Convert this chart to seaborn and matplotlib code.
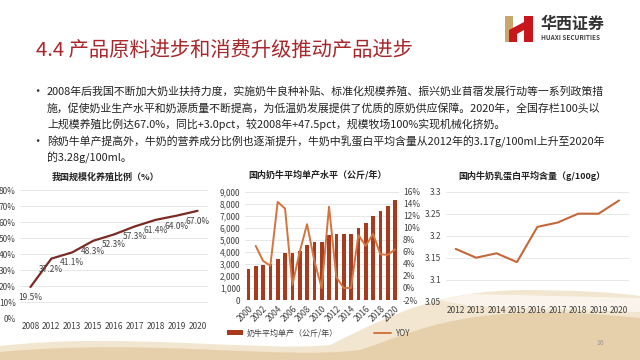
import matplotlib
matplotlib.use("Agg")
import matplotlib.pyplot as plt
import seaborn as sns
from matplotlib.patches import Patch, Polygon, PathPatch
from matplotlib.lines import Line2D
from matplotlib.path import Path
from matplotlib.ticker import FuncFormatter

# ---- data ----
scale_years = ["2008", "2012", "2013", "2015", "2016", "2017", "2018", "2019", "2020"]
scale_ratio = [19.5, 37.2, 41.1, 48.3, 52.3, 57.3, 61.4, 64.0, 67.0]

yield_years = ["2000", "2001", "2002", "2003", "2004", "2005", "2006", "2007", "2008", "2009", "2010",
               "2011", "2012", "2013", "2014", "2015", "2016", "2017", "2018", "2019", "2020"]
yield_kg = [2600, 2800, 2900, 3000, 3400, 3900, 3900, 4100, 4600, 4800, 4800,
            5400, 5500, 5500, 5500, 6000, 6400, 7000, 7400, 7800, 8300]
yoy_years = yield_years[1:]
yoy_pct = [7.0, 4.5, 3.7, 14.3, 13.2, 0.5, 6.0, 10.6, 4.5, 0.0,
           13.5, 1.8, 0.0, 0.0, 8.8, 7.0, 9.0, 5.6, 5.5, 6.4]

protein_years = ["2012", "2013", "2014", "2015", "2016", "2017", "2018", "2019", "2020"]
protein = [3.17, 3.15, 3.16, 3.14, 3.22, 3.23, 3.25, 3.25, 3.28]

title = "4.4 产品原料进步和消费升级推动产品进步"
bullet_1 = ["2008年后我国不断加大奶业扶持力度，实施奶牛良种补贴、标准化规模养殖、振兴奶业苜蓿发展行动等一系列政策措",
            "施，促使奶业生产水平和奶源质量不断提高，为低温奶发展提供了优质的原奶供应保障。2020年，全国存栏100头以",
            "上规模养殖比例达67.0%，同比+3.0pct，较2008年+47.5pct，规模牧场100%实现机械化挤奶。"]
bullet_2 = ["除奶牛单产提高外，牛奶的营养成分比例也逐渐提升，牛奶中乳蛋白平均含量从2012年的3.17g/100ml上升至2020年",
            "的3.28g/100ml。"]

sns.set_theme(style="white")
plt.rcParams["font.family"] = ["Noto Sans CJK SC", "DejaVu Sans"]

W, H = 640, 360
fig = plt.figure(figsize=(6.4, 3.6), dpi=100)


def px(x0, y_top, x1, y_bot):
    return [x0 / W, 1 - y_bot / H, (x1 - x0) / W, (y_bot - y_top) / H]


# ---- decorative background (sand waves) ----
bg = fig.add_axes([0, 0, 1, 1], zorder=-5)
bg.set_xlim(0, W)
bg.set_ylim(H, 0)
bg.axis("off")
verts = [(0, 360), (0, 346), (120, 332), (260, 352), (330, 345),
         (400, 310), (440, 292), (520, 290), (600, 290), (640, 296), (640, 360), (0, 360)]
codes = [Path.MOVETO, Path.LINETO, Path.CURVE4, Path.CURVE4, Path.CURVE4,
         Path.CURVE4, Path.CURVE4, Path.LINETO, Path.CURVE3, Path.CURVE3, Path.LINETO, Path.CLOSEPOLY]
bg.add_patch(PathPatch(Path(verts, codes), facecolor="#F1E2C8", edgecolor="none", alpha=0.85))
verts2 = [(0, 360), (0, 352), (150, 338), (280, 360), (360, 350),
          (420, 330), (470, 300), (640, 318), (640, 360), (0, 360)]
codes2 = [Path.MOVETO, Path.LINETO, Path.CURVE4, Path.CURVE4, Path.CURVE4,
          Path.CURVE4, Path.CURVE4, Path.CURVE3, Path.LINETO, Path.CLOSEPOLY]
bg.add_patch(PathPatch(Path(verts2, codes2), facecolor="#DDBE8E", edgecolor="none", alpha=0.55))
bg.add_patch(Polygon([(440, 300), (470, 294), (640, 298), (640, 312), (470, 306)],
                     facecolor="white", edgecolor="none", alpha=0.6))

# ---- header ----
fig.text(36 / W, 1 - 50 / H, title, fontsize=14.6, color="#A8272B", va="center", ha="left")
bg.add_patch(Polygon([(505, 16), (513, 16), (513, 42), (505, 42)], facecolor="#C9A66B", edgecolor="none"))
bg.add_patch(Polygon([(509, 30), (524, 22), (524, 16), (533, 16), (533, 42), (524, 42), (524, 30), (517, 34), (517, 42), (509, 42)],
                     facecolor="#C8161D", edgecolor="none"))
fig.text(541 / W, 1 - 24 / H, "华西证券", fontsize=11.5, color="#333333", va="center", ha="left", weight="bold")
fig.text(541 / W, 1 - 38 / H, "HUAXI SECURITIES", fontsize=4.6, color="#444444", va="center", ha="left", weight="bold")

# ---- bullet text ----
y = 92
for lines in (bullet_1, bullet_2):
    fig.text(31 / W, 1 - y / H, "•", fontsize=9, color="#333333", va="center")
    for ln in lines:
        fig.text(47 / W, 1 - y / H, ln, fontsize=7.85, color="#222222", va="center")
        y += 16
    y += 2

tick_col = "#404040"
grid_col = "#E3E3E3"

# ---- chart 1: scale farming ratio ----
ax1 = fig.add_axes(px(20, 190, 208, 318.3))
sns.lineplot(x=scale_years, y=scale_ratio, ax=ax1, color="#7B2B24", linewidth=1.6, sort=False)
for i, v in enumerate(scale_ratio):
    ax1.annotate(f"{v:.1f}%", (i, v), xytext=(0, -7.5), textcoords="offset points",
                 ha="center", va="center", fontsize=6, color="#404040")
ax1.set_ylim(0, 80)
ax1.set_yticks(range(0, 81, 10))
ax1.yaxis.set_major_formatter(FuncFormatter(lambda v, p: f"{v:.0f}%"))
ax1.set_xlim(-0.5, len(scale_years) - 0.5)
fig.text(105 / W, 1 - 177 / H, "我国规模化养殖比例（%）", fontsize=6.5, weight="bold",
         ha="center", va="center", color="#222222")

# ---- chart 2: average yield per cow ----
ax2 = fig.add_axes(px(244.7, 191.7, 398.7, 300))
sns.barplot(x=yield_years, y=yield_kg, ax=ax2, color="#A83A1E", width=0.5, saturation=1,
            edgecolor="none", linewidth=0)
ax2.set_ylim(0, 9000)
ax2.set_yticks(range(0, 9001, 1000))
ax2.yaxis.set_major_formatter(FuncFormatter(lambda v, p: f"{v:,.0f}"))
ax2t = ax2.twinx()
yoy_pos = [yield_years.index(yr) for yr in yoy_years]
sns.lineplot(x=yoy_pos, y=yoy_pct, ax=ax2t, color="#D4743E", linewidth=1.4)
ax2t.set_ylim(-2, 16)
ax2t.set_yticks(range(-2, 17, 2))
ax2t.yaxis.set_major_formatter(FuncFormatter(lambda v, p: f"{v:.0f}%"))
ax2.set_xlim(-0.5, len(yield_years) - 0.5)
ax2.set_xticks(range(0, len(yield_years), 2))
ax2.set_xticklabels(yield_years[::2], rotation=45, ha="right", rotation_mode="anchor")
fig.text(318 / W, 1 - 175 / H, "国内奶牛平均单产水平（公斤/年）", fontsize=6.5, weight="bold",
         ha="center", va="center", color="#222222")
handles = [Patch(facecolor="#A83A1E", edgecolor="none"),
           Line2D([0], [0], color="#D4743E", lw=1.4)]
fig.legend(handles, ["奶牛平均单产（公斤/年）", "YOY"], loc="center",
           bbox_to_anchor=(318 / W, 1 - 333 / H), ncol=2, frameon=False, fontsize=5.8,
           handlelength=2.0, handleheight=0.6, columnspacing=4.5, handletextpad=0.5,
           labelcolor="#404040")

# ---- chart 3: milk protein content ----
ax3 = fig.add_axes(px(445.5, 191.7, 629.2, 301.7))
sns.lineplot(x=protein_years, y=protein, ax=ax3, color="#C4683C", linewidth=1.5, sort=False)
ax3.set_ylim(3.05, 3.3)
ax3.set_yticks([3.05, 3.1, 3.15, 3.2, 3.25, 3.3])
ax3.yaxis.set_major_formatter(FuncFormatter(lambda v, p: f"{v:g}"))
ax3.set_xlim(-0.5, len(protein_years) - 0.5)
fig.text(532 / W, 1 - 176 / H, "国内牛奶乳蛋白平均含量（g/100g）", fontsize=6.5, weight="bold",
         ha="center", va="center", color="#222222")

for ax in (ax1, ax2, ax2t, ax3):
    ax.set_facecolor("none")
    ax.set_xlabel("")
    ax.set_ylabel("")
    for s in ax.spines.values():
        s.set_visible(False)
    ax.tick_params(length=0, labelsize=6, colors=tick_col, pad=3)
for ax in (ax1, ax2, ax3):
    ax.grid(axis="y", color=grid_col, linewidth=0.6)
    ax.grid(axis="x", visible=False)
    ax.set_axisbelow(True)
ax2t.grid(False)

fig.text(600 / W, 1 - 343 / H, "16", fontsize=5, color="#999999", ha="center", va="center")

fig.savefig("out.png", dpi=100)
